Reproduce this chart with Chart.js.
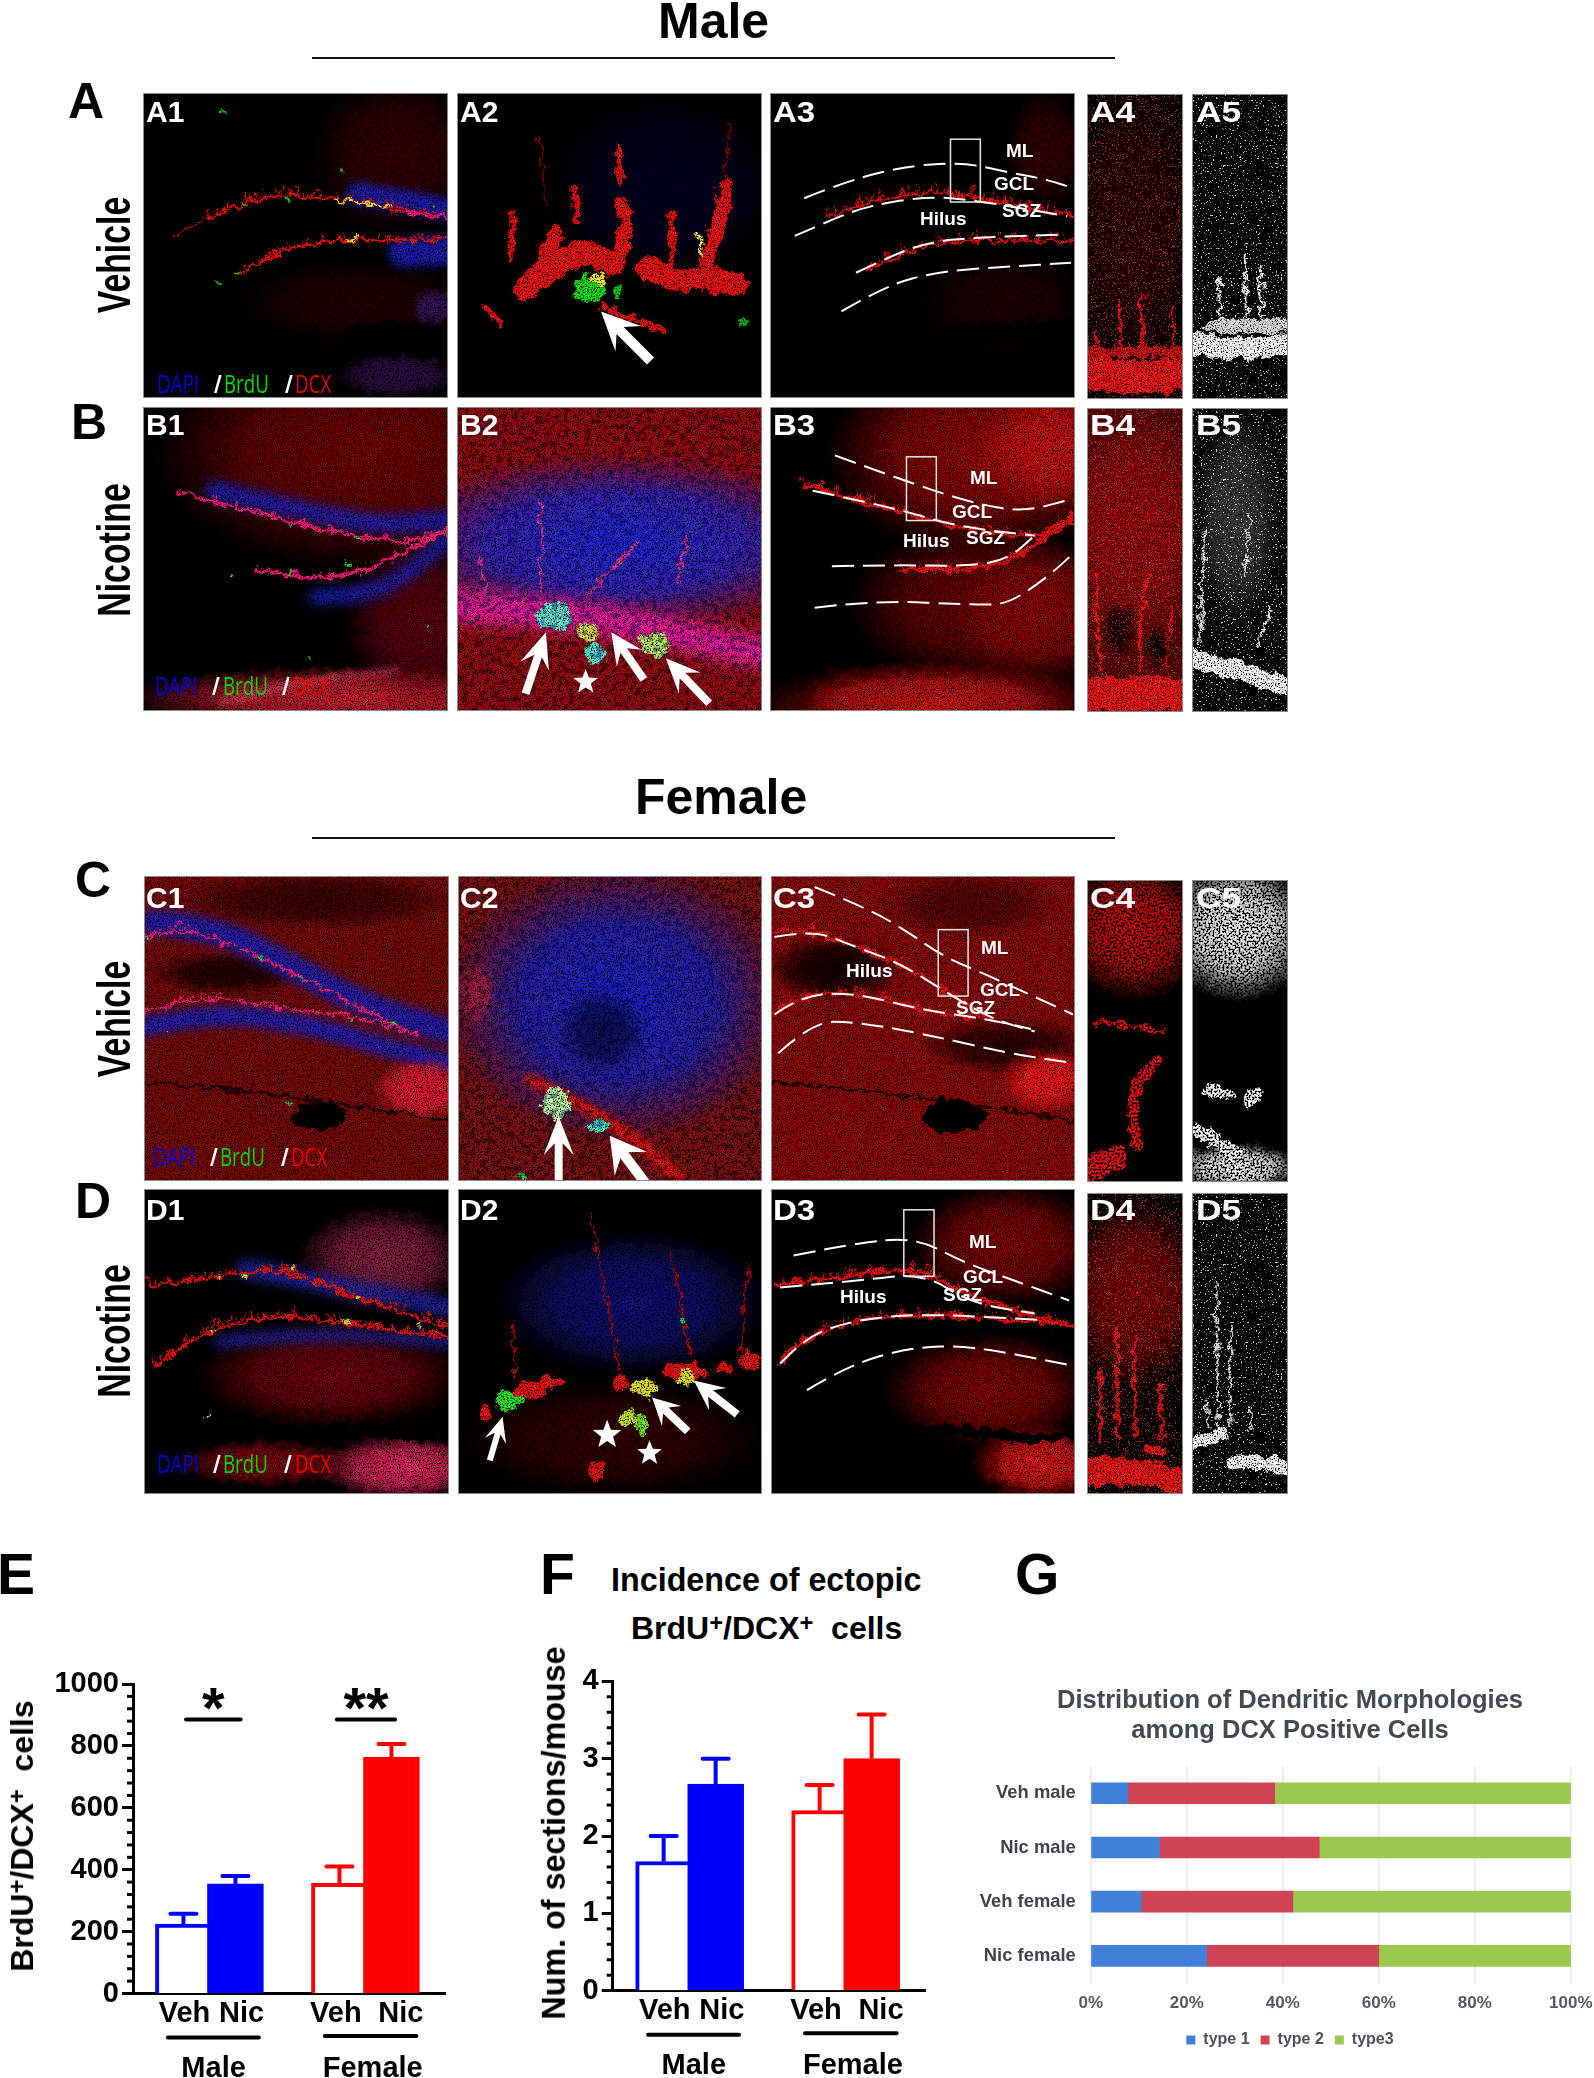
<!DOCTYPE html>
<html lang="en">
<head>
<meta charset="UTF-8">
<title>Ectopic BrdU/DCX cells by sex and treatment</title>
<script src="https://cdn.jsdelivr.net/npm/chart.js@4/dist/chart.umd.js"></script>
<style>
    html, body { margin: 0; padding: 0; background: #fff; }
    body { position: relative; width: 1594px; height: 2078px; overflow: hidden;
           font-family: "Liberation Sans", Arial, sans-serif; color: #000; }
    canvas, .noise, .t { position: absolute; }
    #marks { z-index: 3; }
    .t { white-space: nowrap; line-height: 0; font-weight: bold; z-index: 5; }
    .rot { line-height: 1; }
    sup { font-size: .74em; vertical-align: .34em; line-height: 0; }
    .rule { position: absolute; height: 2px; background: #111; }
</style>
</head>
<body>
<svg width="0" height="0" style="position:absolute">
    <filter id="rough" x="-5%" y="-5%" width="110%" height="110%">
        <feTurbulence type="fractalNoise" baseFrequency="0.11" numOctaves="3" seed="4"/>
        <feDisplacementMap in="SourceGraphic" scale="13" xChannelSelector="R" yChannelSelector="G"/>
    </filter>
</svg>
<canvas id="micro" width="1594" height="1510" style="left:0;top:0"></canvas>
<canvas id="marks" width="1594" height="1510" style="left:0;top:0"></canvas>
<canvas id="chartE" width="470" height="418" style="left:0;top:1660px"></canvas>
<canvas id="chartF" width="430" height="418" style="left:520px;top:1660px"></canvas>
<canvas id="chartG" width="640" height="418" style="left:970px;top:1660px"></canvas>
<div class="rule" style="left:312px;width:803px;top:57px"></div>
<div class="rule" style="left:312px;width:803px;top:837px"></div>

<script>
const barLabels = ['Veh', 'Nic', 'Veh', 'Nic'];
const barSlots = [1, 2, 4, 5];
const labelSlots = [1.02, 2.12, 3.93, 5.18];
const groupLabels = ['Male', 'Female'];
const groupSlots = [1.58, 4.64];
const groupSpans = [[0.7, 2.45], [3.72, 5.48]];
const barColors = ['#0000ff', '#0000ff', '#ff0000', '#ff0000'];
const barFills = ['#ffffff', '#0000ff', '#ffffff', '#ff0000'];

const cellsMean = [224, 354, 356, 764];
const cellsErrTop = [258, 380, 410, 806];
const ectopicMean = [1.67, 2.67, 2.33, 3.0];
const ectopicErrTop = [2.0, 3.0, 2.66, 3.57];

const rowLabels = ['Veh male', 'Nic male', 'Veh female', 'Nic female'];
const type1 = [7.7, 14.3, 10.5, 24.1];
const type2 = [30.6, 33.3, 31.6, 35.9];
const type3 = [61.7, 52.4, 57.9, 40.0];

const FONT = '"Liberation Sans", Arial, sans-serif';

// ---- Chart.js panels ----
function pairedBars(id, o) {
    const extras = {
        id: 'extras',
        afterDatasetsDraw(chart) {
            const { ctx, scales: { x, y }, chartArea } = chart;
            ctx.save();
            // minor ticks
            ctx.strokeStyle = '#000';
            ctx.lineWidth = 3;
            for (let i = 0; i <= o.max / o.minor + 0.5; i++) {
                const v = i * o.minor;
                if (Math.abs(v / o.major - Math.round(v / o.major)) < 1e-6) continue;
                const p = y.getPixelForValue(v);
                ctx.beginPath();
                ctx.moveTo(chartArea.left - 6, p);
                ctx.lineTo(chartArea.left, p);
                ctx.stroke();
            }
            // error bars
            o.errTop.forEach((top, i) => {
                const cx = x.getPixelForValue(barSlots[i]);
                const pTop = y.getPixelForValue(top);
                ctx.strokeStyle = barColors[i];
                ctx.lineWidth = 4;
                ctx.lineCap = 'butt';
                ctx.beginPath();
                ctx.moveTo(cx, y.getPixelForValue(o.values[i]));
                ctx.lineTo(cx, pTop);
                ctx.stroke();
                ctx.lineCap = 'round';
                ctx.beginPath();
                ctx.moveTo(cx - 13, pTop);
                ctx.lineTo(cx + 13, pTop);
                ctx.stroke();
            });
            // group rules and names under the axis
            ctx.strokeStyle = '#000';
            ctx.fillStyle = '#000';
            ctx.lineWidth = 4;
            ctx.lineCap = 'round';
            ctx.font = 'bold 29px ' + FONT;
            ctx.textAlign = 'center';
            ctx.textBaseline = 'alphabetic';
            groupLabels.forEach((name, i) => {
                const yy = chartArea.bottom + (i ? 42.5 : 44);
                ctx.beginPath();
                ctx.moveTo(x.getPixelForValue(groupSpans[i][0]), yy);
                ctx.lineTo(x.getPixelForValue(groupSpans[i][1]), yy);
                ctx.stroke();
                ctx.fillText(name, x.getPixelForValue(groupSlots[i]), chartArea.bottom + 83);
            });
            // significance marks
            (o.sig || []).forEach(s => {
                const a = x.getPixelForValue(s.from), b = x.getPixelForValue(s.to);
                const yy = y.getPixelForValue(s.at);
                ctx.beginPath();
                ctx.moveTo(a, yy);
                ctx.lineTo(b, yy);
                ctx.stroke();
                ctx.font = 'bold 58px ' + FONT;
                ctx.fillText(s.text, (a + b) / 2, yy + 8);
            });
            ctx.restore();
        }
    };
    return new Chart(document.getElementById(id), {
        type: 'bar',
        data: {
            datasets: [{
                data: barSlots.map((s, i) => ({ x: s, y: o.values[i] })),
                backgroundColor: barFills,
                borderColor: barColors,
                borderWidth: 4,
                borderSkipped: 'bottom',
                barThickness: 56
            }]
        },
        options: {
            responsive: false,
            animation: false,
            layout: { padding: { top: o.top, right: o.right, left: 0, bottom: 0 } },
            plugins: { legend: { display: false }, tooltip: { enabled: false } },
            scales: {
                x: {
                    type: 'linear', offset: false, min: o.xMin, max: o.xMax,
                    afterBuildTicks: a => { a.ticks = labelSlots.map(v => ({ value: v })); },
                    afterFit: a => { a.height = o.xHeight; },
                    grid: { display: false },
                    border: { color: '#000', width: 3 },
                    ticks: {
                        callback: (v, i) => barLabels[i], autoSkip: false, maxRotation: 0,
                        color: '#000', padding: -5, font: { family: FONT, weight: 'bold', size: 29 }
                    }
                },
                y: {
                    min: 0, max: o.max,
                    afterFit: a => { a.width = o.left; },
                    grid: { drawOnChartArea: false, color: '#000', tickLength: 11, tickWidth: 3 },
                    border: { color: '#000', width: 3 },
                    ticks: {
                        stepSize: o.major, color: '#000', padding: 3, callback: v => String(v),
                        font: { family: FONT, weight: 'bold', size: 29 }
                    }
                }
            }
        },
        plugins: [extras]
    });
}

pairedBars('chartE', {
    values: cellsMean, errTop: cellsErrTop, max: 1000, major: 200, minor: 40,
    left: 133, right: 25, top: 24, xHeight: 84.5, xMin: 0.03, xMax: 6.03,
    sig: [{ from: 1.05, to: 2.1, at: 885, text: '*' }, { from: 3.95, to: 5.07, at: 885, text: '**' }]
});
pairedBars('chartF', {
    values: ectopicMean, errTop: ectopicErrTop, max: 4, major: 1, minor: 0.2,
    left: 92.7, right: 24.3, top: 21.3, xHeight: 87.3, xMin: 0.02, xMax: 6.04
});

new Chart(document.getElementById('chartG'), {
    type: 'bar',
    data: {
        labels: rowLabels,
        datasets: [
            { label: 'type 1', data: type1, backgroundColor: '#4080d8' },
            { label: 'type 2', data: type2, backgroundColor: '#cf4354' },
            { label: 'type3', data: type3, backgroundColor: '#9cc850' }
        ]
    },
    options: {
        indexAxis: 'y',
        responsive: false,
        animation: false,
        barThickness: 21,
        layout: { padding: { bottom: 20 } },
        plugins: {
            tooltip: { enabled: false },
            title: {
                display: true,
                text: ['Distribution of Dendritic Morphologies', 'among DCX Positive Cells'],
                color: '#44494f',
                font: { family: FONT, weight: 'bold', size: 25.5, lineHeight: 1.18 },
                padding: { top: 26, bottom: 20 }
            },
            legend: {
                position: 'bottom',
                labels: {
                    boxWidth: 9, boxHeight: 9, padding: 11, color: '#4d5156',
                    font: { family: FONT, weight: 'bold', size: 16 }
                }
            }
        },
        scales: {
            x: {
                stacked: true, min: 0, max: 100,
                afterFit: a => { a.height = 38; },
                grid: { color: '#e9e9f5', lineWidth: 1.5, drawTicks: false },
                border: { display: false },
                ticks: {
                    stepSize: 20, callback: v => v + '%', color: '#555a5f', padding: 10.5,
                    font: { family: FONT, weight: 'bold', size: 17 }
                }
            },
            y: {
                stacked: true,
                afterFit: a => { a.width = 120.8; },
                grid: { display: false },
                border: { display: false },
                ticks: { color: '#404348', padding: 7, font: { family: FONT, weight: 'bold', size: 18.4 } }
            },
            // empty axis on the right, only keeps the plot clear of the canvas edge
            yGap: {
                type: 'linear', position: 'right',
                afterFit: a => { a.width = 39.2; },
                grid: { display: false },
                border: { display: false },
                ticks: { display: false }
            }
        }
    }
});

// ---- text outside the charts ----
function put(html, x, base, size, extra) {
    const el = document.createElement('div');
    el.className = 't';
    el.innerHTML = html;
    el.style.left = x + 'px';
    el.style.top = (base - 0.3465 * size) + 'px';
    el.style.fontSize = size + 'px';
    el.style.transformOrigin = '0 50%';
    if (extra) Object.assign(el.style, extra);
    document.body.appendChild(el);
}
function rotated(html, cx, cy, size, sx) {
    const el = document.createElement('div');
    el.className = 't rot';
    el.innerHTML = html;
    el.style.left = cx + 'px';
    el.style.top = cy + 'px';
    el.style.fontSize = size + 'px';
    el.style.transform = `translate(-50%,-50%) rotate(-90deg) scaleX(${sx})`;
    document.body.appendChild(el);
}
const STAIN = 'BrdU<sup>+</sup>/DCX<sup>+</sup>';

put('Male', 658, 38, 50);
put('Female', 635, 814, 50);
[['A', 68, 118], ['B', 71, 439], ['C', 75, 897], ['D', 75, 1218]].forEach(a => put(a[0], a[1], a[2], 50));
[['E', -3, 1594], ['F', 540, 1594], ['G', 1015, 1594]].forEach(a => put(a[0], a[1], a[2], 57));
[['Vehicle', 255], ['Nicotine', 550], ['Vehicle', 1019], ['Nicotine', 1331]].forEach(a => rotated(a[0], 113, a[1], 47, 0.72));
rotated(STAIN + '&nbsp; cells', 22, 1836, 32, 1);
rotated('Num. of sections/mouse', 554, 1833, 32.3, 1);
put('Incidence of ectopic', 611, 1591, 32.3);
put(STAIN + '&nbsp; cells', 631, 1634, 32);

// panel names
const panelCols = [[146, 1], [460, 1], [773, 1.1], [1090, 1.18], [1196, 1.18]];
[['A', 122], ['B', 435], ['C', 908], ['D', 1220]].forEach(r => {
    panelCols.forEach((c, i) => put(r[0] + (i + 1), c[0], r[1], 30,
        { color: '#fff', transform: `scaleX(${c[1]})` }));
});
// stain key in the first column
[[157, 214, 224, 285, 295, 392], [155, 212, 223, 282, 293, 694], [153, 210, 220, 281, 291, 1165], [157, 213, 223, 284, 295, 1472]].forEach(k => {
    const s = { fontFamily: '"Open Sans", sans-serif', fontWeight: 'normal', transform: 'scaleX(.75)' };
    put('DAPI', k[0], k[5], 25, { ...s, color: '#0000e6' });
    put('/', k[1], k[5], 25, { ...s, color: '#fff', fontWeight: 'bold' });
    put('BrdU', k[2], k[5], 25, { ...s, color: '#00dc00' });
    put('/', k[3], k[5], 25, { ...s, color: '#fff', fontWeight: 'bold' });
    put('DCX', k[4], k[5], 25, { ...s, color: '#e60000' });
});
// layer names in the third column
[['ML', 1006, 158], ['GCL', 994, 191], ['Hilus', 920, 226], ['SGZ', 1002, 218],
 ['ML', 970, 485], ['GCL', 952, 519], ['Hilus', 903, 548], ['SGZ', 966, 545],
 ['ML', 981, 955], ['GCL', 980, 997], ['Hilus', 846, 978], ['SGZ', 956, 1015],
 ['ML', 969, 1249], ['GCL', 963, 1284], ['Hilus', 840, 1304], ['SGZ', 943, 1302]
].forEach(a => put(a[0], a[1], a[2], 19, { color: '#fff' }));

// ---- micrograph panels, sketched by hand ----
const g = document.getElementById('micro').getContext('2d');
const m = document.getElementById('marks').getContext('2d');
// zoom frames the sketch coordinates were read in: [offsetX, offsetY, scaleX, scaleY]
const Z1 = [0, 0, 1.96, 2.119], Z2 = [740, 0, 2.613, 2.119], Z3 = [0, 760, 1.96, 2.063], Z4 = [740, 760, 2.613, 2.063];
let Z = Z1;
const px = x => Z[0] + x / Z[2], py = y => Z[1] + y / Z[3];

function panel(frame, x, y, w, h, bg, draw, noise) {
    Z = frame;
    g.save();
    m.save();
    g.beginPath();
    g.rect(x, y, w, h);
    g.clip();
    m.beginPath();
    m.rect(x, y, w, h);
    m.clip();
    g.fillStyle = bg;
    g.fillRect(x, y, w, h);
    g.filter = 'url(#rough)';
    draw();
    g.restore();
    m.restore();
    m.strokeStyle = '#8a8a8a';
    m.lineWidth = 1;
    m.strokeRect(x + .5, y + .5, w - 1, h - 1);
    (noise || []).forEach(n => addNoise(x, y, w, h, n));
}
function blob(x, y, rx, ry, rgb, a) {
    g.save();
    g.translate(px(x), py(y));
    g.scale(rx / Z[2], ry / Z[3]);
    const r = g.createRadialGradient(0, 0, 0, 0, 0, 1);
    r.addColorStop(0, `rgba(${rgb},${a})`);
    r.addColorStop(.55, `rgba(${rgb},${a * .8})`);
    r.addColorStop(1, `rgba(${rgb},0)`);
    g.fillStyle = r;
    g.beginPath();
    g.arc(0, 0, 1, 0, 7);
    g.fill();
    g.restore();
}
function dot(x, y, rx, ry, c) {
    g.save();
    g.fillStyle = c;
    g.beginPath();
    g.ellipse(px(x), py(y), rx / Z[2], ry / Z[3], 0, 0, 7);
    g.fill();
    g.restore();
}
function path(c, pts) {
    c.beginPath();
    c.moveTo(px(pts[0][0]), py(pts[0][1]));
    for (let i = 1; i < pts.length - 1; i++) {
        const mx = (pts[i][0] + pts[i + 1][0]) / 2, my = (pts[i][1] + pts[i + 1][1]) / 2;
        c.quadraticCurveTo(px(pts[i][0]), py(pts[i][1]), px(mx), py(my));
    }
    const e = pts[pts.length - 1];
    c.lineTo(px(e[0]), py(e[1]));
}
function line(pts, c, w, blur) {
    g.save();
    g.strokeStyle = c;
    g.lineWidth = w;
    g.lineCap = 'round';
    g.lineJoin = 'round';
    if (blur) { g.filter = `blur(${blur}px)`; }
    path(g, pts);
    g.stroke();
    g.restore();
}
const JAG = [1, .35, .7, .2, .9, .5, .15, .8];
function jag(pts, c, w, reach) {
    line(pts, c, w);
    g.save();
    g.strokeStyle = c;
    g.lineWidth = 1.5;
    let k = 0;
    for (let i = 0; i < pts.length - 1; i++) {
        const x0 = px(pts[i][0]), y0 = py(pts[i][1]), x1 = px(pts[i + 1][0]), y1 = py(pts[i + 1][1]);
        const n = Math.ceil(Math.hypot(x1 - x0, y1 - y0) / 5);
        for (let j = 0; j < n; j++) {
            const t = j / n, xx = x0 + (x1 - x0) * t, yy = y0 + (y1 - y0) * t, l = JAG[k++ % 8] * reach;
            g.beginPath();
            g.moveTo(xx, yy + 2);
            g.lineTo(xx + (k % 3 - 1) * 1.5, yy - l);
            g.stroke();
        }
    }
    g.restore();
}
function dash(pts) {
    m.save();
    m.setLineDash([22, 9]);
    m.strokeStyle = '#fff';
    m.lineWidth = 2;
    path(m, pts);
    m.stroke();
    m.restore();
}
function frameBox(x0, y0, x1, y1) {
    m.strokeStyle = '#e8e8e8';
    m.lineWidth = 1.5;
    m.strokeRect(px(x0), py(y0), (x1 - x0) / Z[2], (y1 - y0) / Z[3]);
}
function arrow(tx, ty, bx, by, hw, sw) {
    const x0 = px(tx), y0 = py(ty), x1 = px(bx), y1 = py(by);
    const L = Math.hypot(x1 - x0, y1 - y0), dx = (x1 - x0) / L, dy = (y1 - y0) / L, nx = -dy, ny = dx;
    const hl = L * .55, P = (a, b) => [x0 + dx * a + nx * b, y0 + dy * a + ny * b];
    const poly = [P(0, 0), P(hl, hw), P(hl * .7, sw), P(L, sw), P(L, -sw), P(hl * .7, -sw), P(hl, -hw)];
    m.fillStyle = '#fff';
    m.beginPath();
    poly.forEach((p, i) => i ? m.lineTo(p[0], p[1]) : m.moveTo(p[0], p[1]));
    m.closePath();
    m.fill();
}
function star(x, y, r) {
    m.fillStyle = '#fff';
    m.beginPath();
    for (let i = 0; i < 10; i++) {
        const a = -Math.PI / 2 + i * Math.PI / 5, q = i % 2 ? r * .42 : r;
        m.lineTo(px(x) + Math.cos(a) * q, py(y) + Math.sin(a) * q);
    }
    m.closePath();
    m.fill();
}
function noiseImage(freq, matrix) {
    const svg = `<svg xmlns='http://www.w3.org/2000/svg' width='320' height='320'><filter id='n' x='0' y='0' width='100%' height='100%'><feTurbulence type='fractalNoise' baseFrequency='${freq}' numOctaves='2'/><feColorMatrix values='${matrix}'/></filter><rect width='320' height='320' filter='url(#n)'/></svg>`;
    return `url("data:image/svg+xml,${encodeURIComponent(svg)}")`;
}
const NOISE = {
    dark: { image: noiseImage(.75, '5 0 0 0 -1.7 5 0 0 0 -1.7 5 0 0 0 -1.7 0 0 0 0 1'), blend: 'multiply', opacity: .9 },
    holes: { image: noiseImage(.5, '9 0 0 0 -4 9 0 0 0 -4 9 0 0 0 -4 0 0 0 0 1'), blend: 'multiply', opacity: 1 },
    white: { image: noiseImage(.6, '0 0 0 0 1 0 0 0 0 1 0 0 0 0 1 12 0 0 0 -7.8'), blend: 'normal', opacity: .8 },
    red: { image: noiseImage(.7, '0 0 0 0 .85 0 0 0 0 .05 0 0 0 0 .05 12 0 0 0 -7.6'), blend: 'normal', opacity: .8 },
    blue: { image: noiseImage(.18, '0 0 0 0 .05 0 0 0 0 .05 0 0 0 0 .55 7 0 0 0 -3.4'), blend: 'multiply', opacity: .55 }
};
function addNoise(x, y, w, h, name) {
    const n = NOISE[name], el = document.createElement('div');
    el.className = 'noise';
    el.style.cssText = `left:${x + 1}px;top:${y + 1}px;width:${w - 2}px;height:${h - 2}px;background-image:${n.image};mix-blend-mode:${n.blend};opacity:${n.opacity}`;
    document.body.appendChild(el);
}
const RED = '#f00a0a', PINK = '#ff1878', BLUE = 'rgba(28,28,190,.9)';

// row A
panel(Z1, 143, 93, 305, 305, '#000', () => {
    blob(780, 330, 170, 170, '110,0,0', .5);
    blob(700, 640, 230, 90, '70,0,0', .5);
    line([[700, 712], [890, 708]], '#000', 26);
    blob(780, 795, 130, 50, '60,20,90', .8);
    blob(850, 650, 50, 45, '70,30,130', .7);
    line([[700, 410], [790, 425], [880, 445]], BLUE, 22, 4);
    line([[790, 535], [880, 530]], BLUE, 30, 4);
    jag([[410, 460], [490, 425], [560, 412], [640, 420], [720, 430], [800, 450], [878, 460]], RED, 3, 8);
    jag([[340, 500], [400, 465]], '#c00808', 1, 2);
    jag([[470, 580], [530, 540], [610, 515], [700, 508], [790, 510], [878, 505]], RED, 3, 7);
    line([[660, 423], [760, 438]], '#ffe040', 3);
    line([[680, 507], [700, 505]], '#ffe040', 3);
    line([[800, 452], [878, 460]], PINK, 4);
    [[436, 241], [670, 361], [465, 580], [480, 430], [565, 420], [850, 436], [425, 600]].forEach(p => dot(p[0], p[1], 4, 4, '#10d010'));
}, ['dark']);
panel(Z1, 457, 93, 305, 305, '#000', () => {
    blob(1300, 400, 220, 200, '10,10,100', .35);
    [[[1030, 610], [1090, 560], [1150, 530], [1200, 560]], [[1270, 570], [1310, 595], [1380, 585], [1440, 605]]].forEach(p => line(p, RED, 24));
    [[[1210, 565], [1232, 470], [1215, 430]], [[1385, 560], [1410, 470], [1425, 395]], [[1040, 620], [1090, 490]]].forEach(p => line(p, RED, 14));
    [[[1000, 550], [1005, 450]], [[1315, 560], [1318, 450]], [[1130, 470], [1126, 400]], [[1215, 390], [1215, 310]], [[950, 650], [985, 690]], [[1180, 650], [1300, 700]]].forEach(p => line(p, RED, 6));
    [[[1055, 280], [1070, 440]], [[1430, 260], [1420, 380]]].forEach(p => line(p, '#800404', 2));
    line([[1370, 490], [1375, 540]], '#ffe040', 4);
    dot(1157, 612, 30, 32, '#10e010');
    dot(1168, 590, 16, 13, '#f0ee20');
    dot(1212, 618, 8, 16, '#10d010');
    dot(1460, 682, 14, 8, '#10b010');
    arrow(1178, 660, 1275, 765, 18, 5);
}, ['dark']);
panel(Z2, 770, 93, 305, 305, '#000', () => {
    blob(800, 320, 110, 130, '110,0,0', .5);
    blob(690, 640, 220, 110, '70,0,0', .45);
    line([[470, 715], [875, 700]], '#000', 24);
    jag([[230, 460], [340, 425], [480, 408], [600, 415], [720, 435], [875, 460]], RED, 3, 9);
    jag([[340, 570], [470, 520], [620, 508], [875, 510]], RED, 3, 8);
    dash([[168, 420], [290, 380], [450, 350], [590, 345], [700, 365], [800, 380], [875, 400]]);
    dash([[143, 500], [240, 465], [340, 435], [500, 415], [640, 428], [760, 445], [855, 458]]);
    dash([[303, 578], [400, 540], [500, 512], [620, 503], [850, 497]]);
    dash([[265, 660], [380, 605], [520, 575], [700, 565], [865, 557]]);
    frameBox(550, 295, 628, 428);
}, ['dark']);
panel(Z2, 1087, 94, 96, 305, '#000', () => {
    blob(1030, 480, 170, 320, '120,0,0', .35);
    [[990, 640], [1050, 620], [1130, 650], [930, 700]].forEach(p => line([[p[0], p[1]], [p[0] + 8, 770]], RED, 3));
    line([[900, 785], [1000, 805], [1170, 790]], RED, 34);
    line([[900, 745], [1160, 745]], '#c80808', 10);
}, ['dark', 'red']);
panel(Z2, 1192, 94, 96, 305, '#000', () => {
    [[1250, 590], [1320, 540], [1360, 570]].forEach(p => line([[p[0], p[1]], [p[0] + 3, 670]], '#f0f0f0', 3));
    line([[1175, 725], [1280, 745], [1440, 730]], '#fff', 22);
    line([[1230, 690], [1420, 690]], '#ddd', 14);
}, ['dark', 'white']);

// row B
panel(Z1, 143, 407, 305, 304, '#000', () => {
    blob(720, 960, 420, 250, '150,0,0', .8);
    blob(700, 1480, 460, 70, '215,25,45', .95);
    blob(830, 1320, 160, 190, '120,0,20', .8);
    line([[420, 1040], [600, 1085], [750, 1115], [880, 1100]], BLUE, 20, 6);
    line([[620, 1265], [720, 1262], [800, 1215], [880, 1140]], BLUE, 16, 6);
    jag([[350, 1045], [500, 1085], [640, 1125], [780, 1150], [878, 1130]], PINK, 3, 5);
    jag([[500, 1210], [620, 1225], [700, 1215], [800, 1170], [878, 1120]], PINK, 4, 5);
    line([[430, 1490], [600, 1440], [780, 1420]], '#ff5080', 3, 3);
    [[570, 1112], [700, 1137], [570, 1215], [800, 1150], [455, 1222], [680, 1195], [610, 1395], [840, 1330]].forEach(p => dot(p[0], p[1], 4, 4, '#20e040'));
}, ['dark']);
panel(Z1, 457, 407, 305, 304, '#a00810', () => {
    blob(1210, 1150, 460, 190, '30,40,220', 1);
    line([[900, 1285], [1050, 1295], [1250, 1325], [1500, 1385]], '#ff10a0', 32, 8);
    [[[1060, 1290], [1060, 1060]], [[1150, 1260], [1250, 1150]], [[1330, 1230], [1345, 1130]], [[960, 1290], [940, 1180]]].forEach(p => line(p, '#d83090', 3));
    dot(1085, 1305, 35, 28, '#60f0d0');
    dot(1150, 1340, 20, 22, '#e0e040');
    dot(1165, 1385, 20, 22, '#50f0d0');
    dot(1285, 1365, 30, 25, '#c0f060');
    arrow(1070, 1340, 1030, 1470, 15, 4);
    arrow(1198, 1340, 1262, 1440, 15, 4);
    arrow(1305, 1395, 1390, 1490, 15, 4);
    star(1148, 1445, 13);
}, ['dark', 'blue']);
panel(Z2, 770, 407, 305, 304, '#000', () => {
    blob(640, 960, 420, 220, '170,0,0', .9);
    blob(820, 950, 200, 140, '220,10,10', .8);
    blob(500, 1490, 460, 90, '220,10,10', .95);
    blob(620, 1280, 340, 170, '120,0,0', .9);
    blob(800, 1300, 240, 160, '150,0,0', .9);
    blob(150, 1200, 120, 330, '0,0,0', 1);
    jag([[160, 1025], [400, 1080], [600, 1125], [780, 1140], [870, 1090]], RED, 4, 8);
    jag([[420, 1205], [600, 1210], [700, 1190], [870, 1100]], RED, 5, 8);
    dash([[248, 965], [400, 1010], [600, 1065], [740, 1085], [855, 1060]]);
    dash([[190, 1040], [400, 1075], [560, 1115], [770, 1135]]);
    dash([[240, 1200], [400, 1197], [600, 1200], [700, 1185], [770, 1135]]);
    dash([[195, 1288], [350, 1272], [620, 1282], [700, 1280], [800, 1225], [875, 1170]]);
    frameBox(435, 968, 513, 1103);
}, ['dark']);
panel(Z2, 1087, 408, 96, 304, '#5a0404', () => {
    blob(1030, 1120, 200, 260, '170,0,0', .8);
    [[[940, 1420], [930, 1220]], [[1040, 1420], [1060, 1220]], [[1110, 1420], [1130, 1290]]].forEach(p => line(p, RED, 3));
    blob(990, 1330, 45, 60, '0,0,0', .8);
    blob(1090, 1370, 40, 45, '0,0,0', .8);
    line([[900, 1470], [1170, 1470]], RED, 34);
}, ['dark', 'red']);
panel(Z2, 1192, 408, 96, 304, '#000', () => {
    blob(1300, 1100, 120, 240, '170,170,170', .35);
    [[[1200, 1360], [1215, 1130]], [[1350, 1370], [1390, 1280]], [[1320, 1220], [1330, 1090]]].forEach(p => line(p, '#ddd', 2.5));
    line([[1175, 1395], [1300, 1420], [1440, 1460]], '#fff', 18);
}, ['dark', 'white']);

// row C
panel(Z3, 144, 876, 305, 305, '#7a0808', () => {
    blob(620, 290, 280, 60, '30,0,0', .7);
    blob(450, 440, 160, 45, '20,0,0', .9);
    line([[300, 335], [420, 345], [560, 420], [720, 510], [880, 560]], BLUE, 26, 5);
    line([[283, 550], [420, 520], [600, 545], [750, 590], [880, 625]], BLUE, 20, 5);
    jag([[283, 365], [350, 340], [500, 400], [650, 480], [820, 570]], PINK, 2, 3);
    jag([[283, 520], [400, 482], [560, 515], [700, 530], [820, 565]], PINK, 2, 3);
    blob(830, 680, 100, 70, '235,15,50', 1);
    line([[283, 665], [500, 682], [880, 745]], '#200010', 3);
    dot(625, 735, 52, 30, '#000');
    [[515, 408], [590, 450], [560, 512], [690, 535], [770, 545], [330, 560], [565, 712], [290, 365]].forEach(p => dot(p[0], p[1], 4, 3, '#20e040'));
}, ['dark']);
panel(Z3, 458, 876, 304, 305, '#851012', () => {
    blob(1210, 500, 340, 290, '20,35,205', 1);
    blob(1180, 560, 90, 90, '0,0,20', .6);
    blob(935, 480, 40, 70, '200,30,60', .7);
    line([[1040, 660], [1200, 740], [1330, 860]], RED, 12, 3);
    dot(1090, 710, 30, 30, '#c0ffa0');
    dot(1175, 755, 22, 15, '#40f0c0');
    dot(1020, 860, 12, 8, '#20e040');
    arrow(1095, 735, 1095, 880, 15, 4);
    arrow(1195, 775, 1270, 880, 20, 5);
}, ['dark', 'blue']);
panel(Z4, 771, 876, 304, 305, '#8e0606', () => {
    blob(600, 300, 240, 70, '30,0,0', .5);
    blob(250, 430, 180, 70, '10,0,0', 1);
    blob(700, 590, 230, 60, '20,0,0', .8);
    blob(800, 660, 120, 70, '250,10,10', 1);
    line([[80, 665], [400, 685], [875, 745]], '#200000', 3);
    dot(560, 735, 80, 35, '#000');
    jag([[90, 355], [190, 350], [300, 385], [420, 420], [540, 480], [660, 535]], RED, 3, 6);
    jag([[90, 520], [160, 485], [300, 480], [470, 515], [650, 535]], RED, 3, 6);
    dash([[195, 262], [330, 305], [430, 350], [530, 405], [650, 445], [870, 525]]);
    dash([[90, 365], [190, 350], [300, 385], [420, 420], [540, 480], [660, 535], [770, 560]]);
    dash([[90, 525], [160, 485], [300, 480], [470, 515], [650, 535], [760, 555]]);
    dash([[100, 605], [190, 540], [300, 540], [480, 565], [700, 605], [870, 625]]);
    frameBox(518, 350, 596, 487);
}, ['dark']);
panel(Z4, 1087, 880, 96, 302, '#000', () => {
    blob(1030, 350, 200, 150, '220,0,0', 1);
    line([[1040, 800], [1010, 700], [1090, 620]], RED, 10);
    line([[930, 540], [1110, 560]], RED, 5);
    line([[900, 850], [980, 820]], RED, 24);
}, ['holes']);
panel(Z4, 1192, 880, 96, 302, '#000', () => {
    blob(1300, 350, 200, 150, '255,255,255', 1);
    line([[1230, 680], [1280, 690]], '#fff', 12);
    line([[1330, 700], [1350, 690]], '#fff', 14);
    line([[1190, 760], [1290, 810]], '#fff', 14);
    blob(1300, 840, 170, 50, '255,255,255', 1);
}, ['holes']);

// row D
panel(Z3, 144, 1189, 305, 305, '#000', () => {
    blob(750, 1030, 170, 110, '150,30,70', .9);
    blob(650, 1270, 270, 110, '130,0,10', .9);
    blob(790, 1460, 170, 70, '225,30,90', 1);
    blob(520, 1450, 180, 50, '150,0,20', .9);
    line([[480, 1050], [640, 1080], [880, 1130]], '#2020a0', 18, 6);
    line([[430, 1200], [620, 1180], [880, 1200]], '#2020a0', 12, 6);
    jag([[290, 1085], [470, 1060], [560, 1050], [700, 1110], [880, 1170]], RED, 3, 7);
    jag([[300, 1250], [420, 1165], [560, 1145], [700, 1165], [880, 1190]], RED, 3, 7);
    line([[480, 1380], [700, 1372], [800, 1408], [880, 1385]], '#000', 6);
    [[480, 1065], [575, 1052], [700, 1110], [820, 1165], [420, 1175], [680, 1158], [430, 1065], [405, 1352]].forEach(p => dot(p[0], p[1], 5, 4, '#d0e020'));
}, ['dark']);
panel(Z3, 458, 1189, 304, 305, '#000', () => {
    blob(1240, 1120, 270, 150, '20,20,140', .85);
    blob(1200, 1400, 300, 120, '90,0,0', .6);
    [[[1005, 1160], [1010, 1280]], [[1160, 940], [1215, 1260]], [[1315, 1020], [1355, 1230]], [[1465, 1040], [1450, 1240]]].forEach(p => line(p, '#a80808', 2));
    [[1040, 1300, 30, 18], [1080, 1285, 28, 14], [950, 1350, 14, 14], [1215, 1285, 18, 18], [1340, 1260, 46, 16], [1470, 1240, 22, 18], [1170, 1465, 18, 20], [1420, 1255, 16, 10]].forEach(c => dot(c[0], c[1], c[2], c[3], '#e81010'));
    dot(995, 1320, 28, 20, '#20e020');
    dot(1262, 1295, 24, 20, '#e0e020');
    dot(1345, 1275, 14, 18, '#e0e020');
    dot(1232, 1357, 16, 16, '#c0e020');
    dot(1258, 1375, 14, 24, '#70e020');
    dot(1340, 1160, 8, 8, '#20d060');
    arrow(985, 1355, 960, 1445, 11, 3);
    arrow(1278, 1315, 1348, 1385, 14, 4);
    arrow(1360, 1280, 1445, 1350, 14, 4);
    star(1190, 1392, 15);
    star(1273, 1430, 13);
}, ['dark']);
panel(Z4, 771, 1189, 304, 305, '#000', () => {
    blob(700, 1000, 260, 130, '150,0,0', .9);
    blob(650, 1300, 280, 120, '150,0,0', .9);
    blob(790, 1450, 190, 80, '230,10,10', 1);
    line([[120, 1390], [500, 1372], [780, 1405], [880, 1385]], '#000', 10);
    jag([[90, 1085], [300, 1060], [480, 1048], [600, 1110], [870, 1170]], RED, 4, 7);
    jag([[105, 1245], [170, 1190], [300, 1155], [480, 1142], [870, 1165]], RED, 4, 7);
    dash([[140, 1022], [300, 997], [460, 985], [580, 1035], [720, 1075], [860, 1115]]);
    dash([[105, 1088], [300, 1075], [480, 1058], [600, 1120], [770, 1142]]);
    dash([[105, 1245], [170, 1190], [300, 1155], [480, 1142], [780, 1155]]);
    dash([[175, 1300], [280, 1250], [440, 1212], [600, 1208], [860, 1248]]);
    frameBox(428, 928, 507, 1065);
}, ['dark']);
panel(Z4, 1087, 1193, 96, 301, '#000', () => {
    blob(1030, 1100, 190, 200, '150,0,0', .85);
    [[985, 1170], [1030, 1190], [940, 1260], [1100, 1290]].forEach(p => line([[p[0], p[1]], [p[0] + 2, 1400]], '#e01010', 4));
    line([[900, 1470], [1000, 1460], [1170, 1490]], RED, 26);
    line([[1060, 1420], [1110, 1430]], RED, 8);
}, ['dark', 'red']);
panel(Z4, 1192, 1193, 96, 301, '#000', () => {
    [[1245, 1080], [1280, 1170], [1330, 1340], [1220, 1320]].forEach(p => line([[p[0], p[1]], [p[0] + 4, 1380]], '#d8d8d8', 2.5));
    line([[1185, 1410], [1260, 1390]], '#fff', 12);
    line([[1290, 1450], [1370, 1445], [1430, 1465]], '#fff', 14);
}, ['dark', 'white']);
</script>
</body>
</html>
